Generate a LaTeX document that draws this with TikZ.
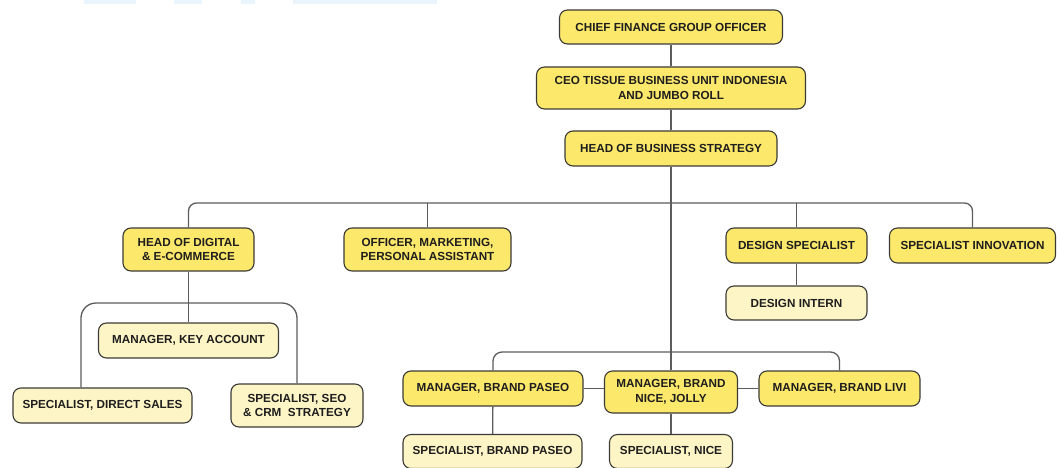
\documentclass[tikz,border=0pt]{standalone}
\usepackage{fontspec}
\setmainfont{Liberation Sans}
\usetikzlibrary{calc}

\definecolor{roleyellow}{HTML}{FCE86A}
\definecolor{subyellow}{HTML}{FEF5C6}
\definecolor{boxline}{HTML}{3A3A36}
\definecolor{linkgray}{HTML}{5C5C5C}
\definecolor{textdark}{HTML}{1E1E1E}
\definecolor{stripblue}{HTML}{EAF4FD}

\begin{document}
\begin{tikzpicture}[x=1pt, y=-1pt,
    role/.style={draw=boxline, fill=roleyellow, rounded corners=8pt, line width=1.1pt,
        inner sep=0pt, align=center, text=textdark,
        font=\bfseries\fontsize{11.7}{14.5}\selectfont},
    subrole/.style={role, fill=subyellow},
    link/.style={draw=linkgray, line width=1.3pt}]
    \useasboundingbox (0,0) rectangle (1057,468);
    % Dải màu nhạt ở mép trên
    \fill[stripblue] (84,0) rectangle (136,4);
    \fill[stripblue] (174,0) rectangle (202,4);
    \fill[stripblue] (241,0) rectangle (255,4);
    \fill[stripblue] (293,0) rectangle (437,4);
    % Cấp trên
    \node[role, minimum width=223pt, minimum height=34pt] (cfgo) at (671,27) {CHIEF FINANCE GROUP OFFICER};
    \node[role, minimum width=269pt, minimum height=42pt] (ceo) at (671,88) {CEO TISSUE BUSINESS UNIT INDONESIA\\AND JUMBO ROLL};
    \node[role, minimum width=212pt, minimum height=35pt] (hbs) at (671,148.5) {HEAD OF BUSINESS STRATEGY};
    % Hàng thứ hai
    \node[role, minimum width=131pt, minimum height=43pt] (hde) at (188.5,249.5) {HEAD OF DIGITAL\\\& E-COMMERCE};
    \node[role, minimum width=167pt, minimum height=43pt] (ompa) at (427.5,249.5) {OFFICER, MARKETING,\\PERSONAL ASSISTANT};
    \node[role, minimum width=141pt, minimum height=35pt] (dsp) at (796.5,245.5) {DESIGN SPECIALIST};
    \node[role, minimum width=166pt, minimum height=35pt] (sinn) at (972.5,245.5) {SPECIALIST INNOVATION};
    \node[subrole, minimum width=141pt, minimum height=34pt] (dint) at (796.5,303) {DESIGN INTERN};
    % Nhánh digital
    \node[subrole, minimum width=180pt, minimum height=35pt] (mka) at (188.5,340.5) {MANAGER, KEY ACCOUNT};
    \node[subrole, minimum width=179pt, minimum height=35pt] (sds) at (102.5,405.5) {SPECIALIST, DIRECT SALES};
    \node[subrole, minimum width=132pt, minimum height=43pt] (sseo) at (297,405.5) {SPECIALIST, SEO\\\& CRM\ \ STRATEGY};
    % Nhánh thương hiệu
    \node[role, minimum width=180pt, minimum height=35pt] (mbp) at (493,388.5) {MANAGER, BRAND PASEO};
    \node[role, minimum width=133pt, minimum height=42pt] (mbnj) at (671,392) {MANAGER, BRAND\\NICE, JOLLY};
    \node[role, minimum width=161pt, minimum height=35pt] (mbl) at (839.5,388.5) {MANAGER, BRAND LIVI};
    \node[subrole, minimum width=179pt, minimum height=34pt] (sbp) at (492.5,451.5) {SPECIALIST, BRAND PASEO};
    \node[subrole, minimum width=123pt, minimum height=34pt] (sn) at (671,451.5) {SPECIALIST, NICE};

    % Đường nối
    \coordinate (topbus) at (671,203);
    \coordinate (leftbus) at (188.5,303);
    \coordinate (lowbus) at (671,352);
    \draw[link] (cfgo) -- (ceo);
    \draw[link] (ceo) -- (hbs);
    \draw[link] (hbs.south) -- (mbnj.north);
    \draw[link, rounded corners=8pt] (hde.north) |- (topbus) -| (sinn.north);
    \draw[link] (ompa.north) -- (ompa.north |- topbus);
    \draw[link] (dsp.north) -- (dsp.north |- topbus);
    \draw[link] (dsp) -- (dint);
    \draw[link] (hde) -- (mka);
    \draw[link, rounded corners=15pt] ([xshift=-21.5pt]sds.north) |- (leftbus) -| (sseo.north);
    \draw[link, rounded corners=9pt] (mbp.north) |- (lowbus) -| (mbl.north);
    \draw[link] (mbp.east) -- (mbp.east -| mbnj.west);
    \draw[link] (mbl.west) -- (mbl.west -| mbnj.east);
    \draw[link] (mbp) -- (sbp);
    \draw[link] (mbnj) -- (sn);
\end{tikzpicture}
\end{document}
